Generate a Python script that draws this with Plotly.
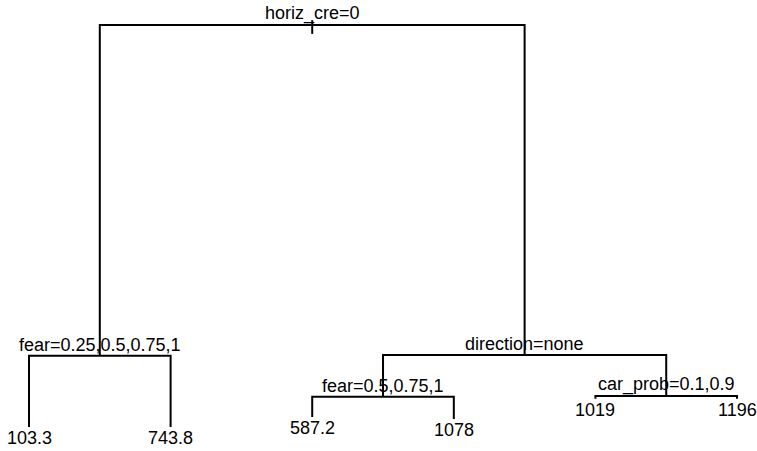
import plotly.graph_objects as go

# ---- data (regression tree, rpart style) ----
split_labels = ["horiz_cre=0", "fear=0.25,0.5,0.75,1", "direction=none",
                "fear=0.5,0.75,1", "car_prob=0.1,0.9"]
split_heights = [100.0, 17.7, 17.9, 7.5, 7.7]          # node height (deviance scale)
split_children = [("n1", "n2"), ("l0", "l1"), ("n3", "n4"), ("l2", "l3"), ("l4", "l5")]
leaf_labels = ["103.3", "743.8", "587.2", "1078", "1019", "1196"]
leaf_heights = [0.0, 0.0, 2.5, 2.0, 7.0, 7.0]

# ---- layout of the tree ----
pos = {}
for i, h in enumerate(leaf_heights):
    pos[f"l{i}"] = (i + 1, h)

def place(k):
    key = f"n{k}"
    if key in pos:
        return pos[key]
    a, b = split_children[k]
    xa = place(int(a[1:]))[0] if a.startswith("n") else pos[a][0]
    xb = place(int(b[1:]))[0] if b.startswith("n") else pos[b][0]
    pos[key] = ((xa + xb) / 2, split_heights[k])
    return pos[key]

place(0)

xs, ys = [], []
for k, (a, b) in enumerate(split_children):
    x, h = pos[f"n{k}"]
    xa, ha = pos[a]
    xb, hb = pos[b]
    xs += [xa, xa, xb, xb, None]
    ys += [ha, h, h, hb, None]

# small tick at root
rx, rh = pos["n0"]
xs += [rx, rx, None]
ys += [rh + 1.2, rh - 2.2, None]

fig = go.Figure()
fig.add_trace(go.Scatter(x=xs, y=ys, mode="lines",
                         line=dict(color="black", width=2),
                         hoverinfo="skip", showlegend=False))

font = dict(family="Liberation Sans, Arial, sans-serif", size=18, color="black")
ann = []
for k, lab in enumerate(split_labels):
    x, h = pos[f"n{k}"]
    ann.append(dict(x=x, y=h, text=lab, showarrow=False, xanchor="center",
                    yanchor="bottom", yshift=-1, font=font))
for i, lab in enumerate(leaf_labels):
    x, h = pos[f"l{i}"]
    ann.append(dict(x=x, y=h, text=lab, showarrow=False, xanchor="center",
                    yanchor="top", yshift=1, font=font))

fig.update_layout(
    width=757, height=451,
    margin=dict(l=0, r=0, t=0, b=0),
    paper_bgcolor="white", plot_bgcolor="white",
    xaxis=dict(range=[0.7952, 6.141], visible=False, fixedrange=True),
    yaxis=dict(range=[-5.97, 106.22], visible=False, fixedrange=True),
    annotations=ann,
    showlegend=False,
)

fig.write_html("out.html", config=dict(displayModeBar=False),
               post_script="document.body.style.margin='0';")
